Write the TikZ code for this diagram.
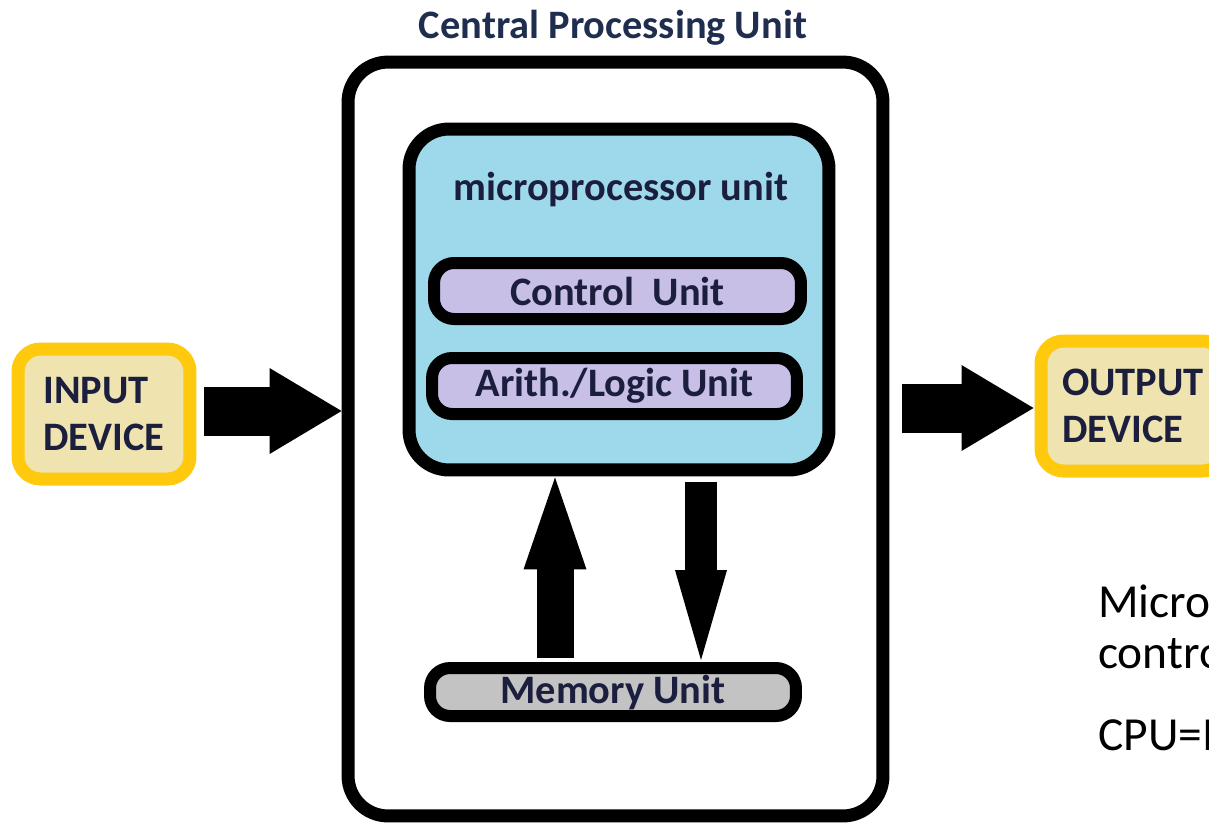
\documentclass[tikz,border=0pt]{standalone}
\usepackage{fontspec}
\setmainfont{Carlito}
\usetikzlibrary{positioning,calc,arrows.meta}
\definecolor{mpblue}{RGB}{157,217,234}
\definecolor{cuviolet}{RGB}{200,191,231}
\definecolor{memgray}{RGB}{195,195,195}
\definecolor{devfill}{RGB}{239,228,176}
\definecolor{devgold}{RGB}{255,201,14}
\definecolor{labelink}{RGB}{28,30,62}
\tikzset{
    cpudiagram/.style={
        x=0.02cm, y=-0.02cm,
        % Stile per i riquadri principali
        bigbox/.style={draw, rectangle, rounded corners=0.8cm,
                       line width=0.26cm},
        % Stile per le unita' interne
        unitbox/.style={draw, rectangle, rounded corners=0.4cm,
                        line width=0.24cm, fill=cuviolet,
                        font=\bfseries\fontsize{23}{27}\selectfont,
                        text=labelink},
        % Stile per i dispositivi di I/O
        device/.style={draw=devgold, fill=devfill, rectangle,
                       rounded corners=0.45cm, line width=0.26cm,
                       align=left, text=labelink,
                       font=\bfseries\fontsize{23}{27}\selectfont,
                       minimum height=2.6cm},
        blockarrow/.style={line width=0.98cm,
                           -{Triangle[length=1.44cm, width=1.72cm, line width=0pt]}}
    }
}

\begin{document}
\begin{tikzpicture}[cpudiagram]
    \useasboundingbox (0,0) rectangle (1209,826);
    \clip (0,0) rectangle (1209,826);

    \node[text={rgb,255:red,31;green,45;blue,78},
          font=\bfseries\fontsize{23}{27}\selectfont] (title) at (613,28)
          {Central Processing Unit};

    \node[bigbox, minimum width=10.7cm, minimum height=15.08cm] (cpu) at (615.5,439) {};
    \node[bigbox, fill=mpblue, minimum width=8.4cm, minimum height=6.82cm] (mpu) at (619,299.5) {};
    \node[text=labelink, font=\bfseries\fontsize{23}{27}\selectfont] (mpulabel) at (621,189)
          {microprocessor unit};

    \node[unitbox, minimum width=7.34cm, minimum height=1.12cm] (cu) at (617.5,291) {Control\ \ Unit};
    \node[unitbox, minimum width=7.3cm, minimum height=1.12cm] (alu) at (614.5,386) {Arith./Logic Unit};
    \node[unitbox, fill=memgray, minimum width=7.32cm, minimum height=0.96cm] (mem) at (613,692) {Memory Unit};

    \node[device, minimum width=3.44cm] (in) at (104,414) {INPUT\\DEVICE};
    \node[device, minimum width=3.68cm] (out) at (1133,406) {OUTPUT\\DEVICE};

    % frecce
    \draw[blockarrow] ($(in.east)+(8,-3)$) -- ($(cpu.west|-in.east)+(0,-3)$);
    \draw[blockarrow] ($(cpu.east|-out.west)+(13,2)$) -- ($(out.west)+(-1,2)$);
    \draw[line width=0.74cm, -{Triangle[length=1.84cm, width=1.26cm, line width=0pt]}]
        ($(mem.north)+(-58,-4)$) -- ($(mpu.south-|mem.north)+(-58,1)$);
    \draw[line width=0.64cm, -{Triangle[length=1.8cm, width=1.04cm, line width=0pt]}]
        ($(mpu.south-|mem.north)+(88,6)$) -- ($(mem.north)+(88,-2)$);

    \node[anchor=base west, font=\fontsize{27}{32}\selectfont] (note1) at (1092,617) {Micro};
    \node[anchor=base west, font=\fontsize{27}{32}\selectfont] (note2) at (1092,668) {contro};
    \node[anchor=base west, font=\fontsize{27}{32}\selectfont] (note3) at (1092,750) {CPU=M};
\end{tikzpicture}
\end{document}
